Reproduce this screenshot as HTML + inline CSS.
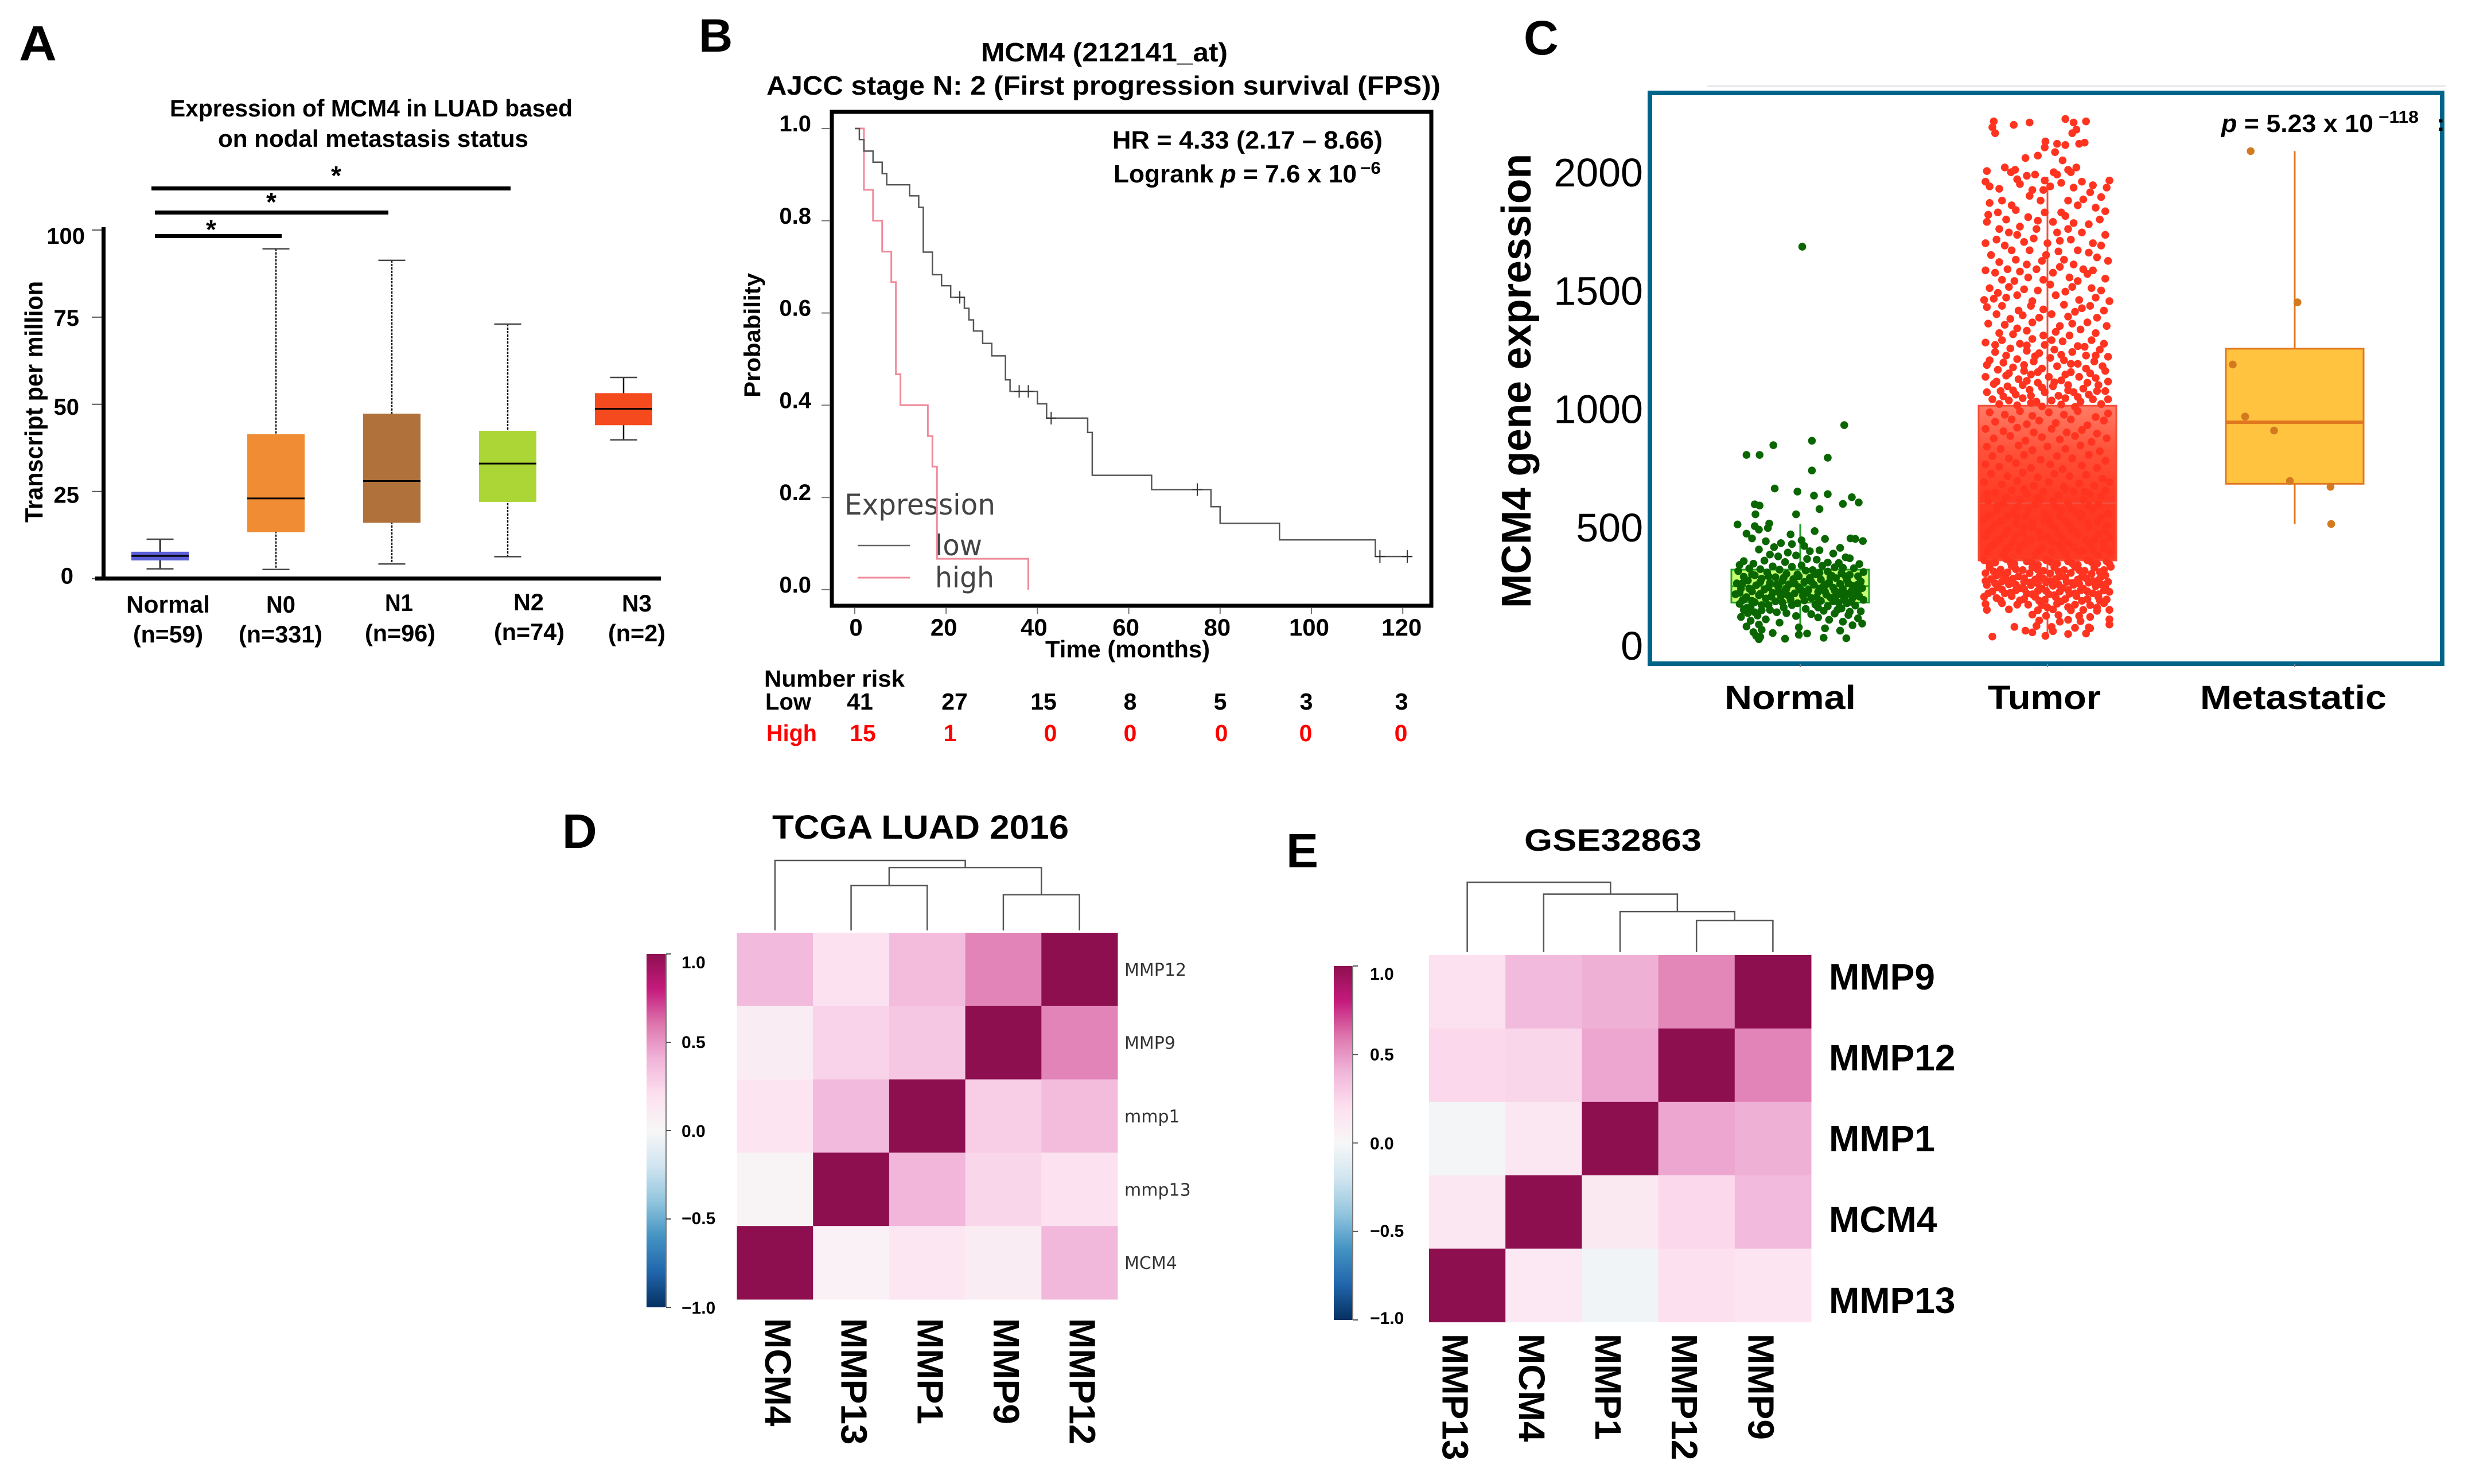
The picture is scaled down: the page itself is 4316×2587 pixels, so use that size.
<!DOCTYPE html>
<html lang="en">
<head>
<meta charset="utf-8">
<title>MCM4 expression figure</title>
<style>
html,body{margin:0;padding:0;background:#fff}
svg{display:block}
text{font-family:"Liberation Sans",sans-serif}
.b{font-weight:bold}
.dv{font-family:"DejaVu Sans",sans-serif}
</style>
</head>
<body>
<svg id="fig" xmlns="http://www.w3.org/2000/svg" width="4316" height="2587" viewBox="0 0 4316 2587">
<rect x="0" y="0" width="4316" height="2587" fill="#fff"/>
<defs id="defs"></defs>

<!-- Panel letters -->
<text class="b" x="33" y="105" font-size="86" textLength="66" lengthAdjust="spacingAndGlyphs">A</text>
<text class="b" x="1218" y="90" font-size="82">B</text>
<text class="b" x="2656" y="95" font-size="84">C</text>
<text class="b" x="980" y="1478" font-size="84">D</text>
<text class="b" x="2242" y="1512" font-size="84">E</text>

<!-- Panel A static text -->
<g id="panelA">
<text class="b" x="296" y="203" font-size="42" textLength="702" lengthAdjust="spacingAndGlyphs">Expression of MCM4 in LUAD based</text>
<text class="b" x="380" y="256" font-size="42" textLength="541" lengthAdjust="spacingAndGlyphs">on nodal metastasis status</text>
<text class="b" transform="translate(74,911) rotate(-90)" font-size="44" textLength="421" lengthAdjust="spacingAndGlyphs">Transcript per million</text>
<text class="b" x="220" y="1068" font-size="42" textLength="146" lengthAdjust="spacingAndGlyphs">Normal</text>
<text class="b" x="232" y="1120" font-size="42" textLength="122" lengthAdjust="spacingAndGlyphs">(n=59)</text>
<text class="b" x="464" y="1068" font-size="42" textLength="51" lengthAdjust="spacingAndGlyphs">N0</text>
<text class="b" x="416" y="1120" font-size="42" textLength="146" lengthAdjust="spacingAndGlyphs">(n=331)</text>
<text class="b" x="671" y="1065" font-size="42" textLength="49" lengthAdjust="spacingAndGlyphs">N1</text>
<text class="b" x="636" y="1118" font-size="42" textLength="123" lengthAdjust="spacingAndGlyphs">(n=96)</text>
<text class="b" x="895" y="1064" font-size="42" textLength="53" lengthAdjust="spacingAndGlyphs">N2</text>
<text class="b" x="861" y="1116" font-size="42" textLength="123" lengthAdjust="spacingAndGlyphs">(n=74)</text>
<text class="b" x="1084" y="1066" font-size="42" textLength="52" lengthAdjust="spacingAndGlyphs">N3</text>
<text class="b" x="1060" y="1118" font-size="42" textLength="100" lengthAdjust="spacingAndGlyphs">(n=2)</text>
<rect x="270" y="408" width="221" height="7" fill="#000"/>
<rect x="270" y="367" width="407" height="7" fill="#000"/>
<rect x="264" y="325" width="626" height="7" fill="#000"/>
<text class="b" x="368" y="416" font-size="46" text-anchor="middle">*</text>
<text class="b" x="473" y="368" font-size="46" text-anchor="middle">*</text>
<text class="b" x="586" y="322" font-size="46" text-anchor="middle">*</text>
</g>

<!-- Panel B static text -->
<g id="panelB">
<text class="b" x="1710" y="107" font-size="46" textLength="430" lengthAdjust="spacingAndGlyphs">MCM4  (212141_at)</text>
<text class="b" x="1336" y="165" font-size="46" textLength="1175" lengthAdjust="spacingAndGlyphs">AJCC stage N: 2 (First progression survival (FPS))</text>
<rect x="1450" y="195" width="1045" height="861" fill="#fff" stroke="#000" stroke-width="7"/>
<text class="b" x="1939" y="259" font-size="44" textLength="471" lengthAdjust="spacingAndGlyphs">HR = 4.33 (2.17 – 8.66)</text>
<text class="b" x="1941" y="318" font-size="44" textLength="424" lengthAdjust="spacingAndGlyphs">Logrank <tspan font-style="italic">p</tspan> = 7.6 x 10</text>
<text class="b" x="2371" y="303" font-size="30" textLength="36" lengthAdjust="spacingAndGlyphs">−6</text>
<text class="b" transform="translate(1325,693) rotate(-90)" font-size="40" textLength="217" lengthAdjust="spacingAndGlyphs">Probability</text>
<text class="b" x="1822" y="1146" font-size="42" textLength="287" lengthAdjust="spacingAndGlyphs">Time (months)</text>
<text class="dv" x="1472" y="897" font-size="50" fill="#444" textLength="263" lengthAdjust="spacingAndGlyphs">Expression</text>
<line x1="1495" y1="951" x2="1586" y2="951" stroke="#666" stroke-width="2.5"/>
<line x1="1495" y1="1007" x2="1586" y2="1007" stroke="#f08a9a" stroke-width="3"/>
<text class="dv" x="1630" y="968" font-size="50" fill="#444" textLength="82" lengthAdjust="spacingAndGlyphs">low</text>
<text class="dv" x="1630" y="1024" font-size="50" fill="#444" textLength="103" lengthAdjust="spacingAndGlyphs">high</text>
<text class="b" x="1332" y="1197" font-size="41" textLength="245" lengthAdjust="spacingAndGlyphs">Number risk</text>
<text class="b" x="1334" y="1237" font-size="41" textLength="80" lengthAdjust="spacingAndGlyphs">Low</text>
<text class="b" x="1336" y="1292" font-size="41" fill="#f00" textLength="88" lengthAdjust="spacingAndGlyphs">High</text>
</g>

<!-- Panel C static text -->
<g id="panelC">
<line x1="2976" y1="150" x2="4263" y2="150" stroke="#dfe0e6" stroke-width="2"/>
<rect x="2876" y="162" width="1381" height="995" fill="#fff" stroke="#00648a" stroke-width="8"/>
<text class="b" transform="translate(2668,1060) rotate(-90)" font-size="72" textLength="792" lengthAdjust="spacingAndGlyphs">MCM4  gene  expression</text>
<text class="b" x="3006" y="1236" font-size="58" textLength="229" lengthAdjust="spacingAndGlyphs">Normal</text>
<text class="b" x="3465" y="1236" font-size="58" textLength="197" lengthAdjust="spacingAndGlyphs">Tumor</text>
<text class="b" x="3835" y="1236" font-size="58" textLength="325" lengthAdjust="spacingAndGlyphs">Metastatic</text>
</g>

<!-- Panel D static text -->
<g id="panelD">
<text class="b" x="1346" y="1462" font-size="58" textLength="517" lengthAdjust="spacingAndGlyphs">TCGA LUAD 2016</text>
</g>

<!-- Panel E static text -->
<g id="panelE">
<text class="b" x="2657" y="1483" font-size="54" textLength="309" lengthAdjust="spacingAndGlyphs">GSE32863</text>
</g>
</svg>

<script>
/* ---------- Panel A data ---------- */
const aGroups = ['Normal','N0','N1','N2','N3'];
const aLow = [2.8,2.6,4.2,6.3,39.8];
const aQ1 = [5.2,13.3,16,22,44];
const aMedian = [6.5,23,28,33,48.7];
const aQ3 = [7.7,41.4,47.3,42.4,53.2];
const aHigh = [11.3,94.6,91.3,73,57.7];
const aColors = ['#5b5fd8','#f08c33','#b0723a','#acd635','#f54a1e'];
const aTicks = [0,25,50,75,100];

/* ---------- Panel B data ---------- */
const bTimeTicks = [0,20,40,60,80,100,120];
const bProbTicks = [0,0.2,0.4,0.6,0.8,1];
const bLowTimes = [0,1,2,4,6,7,12,14,15,17,19,21,24,25,26,28,30,33,34,40,42,51,52,65,78,80,93,114,122];
const bLowSurv = [1,0.976,0.951,0.927,0.902,0.878,0.854,0.829,0.732,0.683,0.659,0.634,0.61,0.585,0.561,0.534,0.507,0.455,0.43,0.403,0.372,0.341,0.248,0.217,0.18,0.144,0.108,0.072,0.072];
const bHighTimes = [0,2,4,6,8,9,10,16,17,18,38];
const bHighSurv = [1,0.867,0.8,0.733,0.667,0.467,0.4,0.333,0.267,0.067,0];
const bCensorTimes = [23,36,38,43,75,115,121];
const bCensorSurv = [0.634,0.43,0.43,0.372,0.217,0.072,0.072];
const bRiskLow = ['41','27','15','8','5','3','3'];
const bRiskHigh = ['15','1','0','0','0','0','0'];

/* ---------- Panel C data (jitter % of half box width, expression value) ---------- */
const cTicks = [0,500,1000,1500,2000];
const cGroups = ['Normal','Tumor','Metastatic'];
const cLow = [28,37,513];
const cQ1 = [181,359,683];
const cMedian = [250,600,943];
const cQ3 = [320,1013,1254];
const cHigh = [513,1981,2089];
const normalPoints = [[3,1685],[64,931],[17,865],[-39,846],[-78,805],[-59,805],[40,793],[17,739],[-37,663],[-4,650],[20,633],[40,639],[75,626],[62,598],[85,604],[-66,596],[-59,591],[28,576],[-65,554],[-6,554],[-91,511],[-45,515],[-66,504],[-47,496],[-60,489],[21,483],[-78,472],[-14,469],[-70,452],[73,452],[80,450],[91,441],[2,444],[36,450],
[-50,440],[-28,432],[-12,428],[6,420],[-38,415],[58,412],[-60,405],[28,402],[14,398],[-18,392],[48,388],[-44,384],[-6,380],[-32,376],[66,372],[72,368],[10,365],[24,362],[-52,358],[-82,356],[-22,352],[40,350],[56,348],[-68,345],[86,344],[-88,340],[2,338],[32,336],[-40,334],[-12,332],[50,330],[62,328],[78,326],[-74,325],[-58,322],[-30,320],[18,318],[8,316],[-90,314],[40,312],[92,310],[-48,308],[28,306],[60,304],[-20,302],[-4,300],[72,298],[-66,296],[46,294],[84,292],[-82,290],[-36,288],[14,286],[52,284],[-56,282],[-10,280],[30,278],[68,276],[-76,274],[-26,272],[88,270],[6,268],[42,266],[-44,264],[-92,262],[58,260],[-16,258],[20,256],[-64,254],[76,252],[34,250],[-32,248],[-2,246],[48,244],[90,242],[-86,240],[62,238],[-52,236],[12,234],[-22,232],[82,230],[-70,228],[26,226],[54,224],[-40,222],[-8,220],[70,218],[-94,216],[38,214],[-60,212],[4,210],[-28,208],[86,206],[-78,204],[44,202],[16,200],[-50,198],[64,196],[-14,194],[92,192],[-84,190],[30,188],[-36,186],[74,184],[-66,182],[56,180],[-4,178],[-88,175],[22,172],[-46,170],[80,168],[40,165],[-72,162],[-24,160],[60,156],[8,154],[-82,150],[-56,148],[34,146],[88,144],[-34,140],[-76,136],[50,134],[16,132],[70,128],[-62,126],[-6,124],[-86,120],[26,118],[84,114],[-50,110],[42,108],[-72,104],[62,100],[-30,96],[90,92],[-60,88],[76,85],[-78,80],[-2,76],[36,72],[-56,66],[58,62],[-68,56],[-40,52],[10,50],[-2,45],[-64,40],[-58,36],[34,32],[67,30],[-22,28],[-60,26],
[-70,300],[-46,292],[-24,286],[-2,292],[22,300],[44,288],[66,292],[-84,262],[-58,268],[-34,258],[-8,262],[16,270],[38,258],[70,262],[84,258],[-74,240],[-46,246],[-20,240],[2,232],[28,240],[50,232],[74,228],[-88,222],[-58,218],[-32,226],[10,222],[36,228],[60,214],[84,216],[-80,198],[-42,206],[-18,212],[24,204],[52,208],[76,200],[-70,188],[-26,182],[6,190],[48,186],[68,178],[-56,170],[-12,170],[26,160],[-78,158],[-44,150],[54,150],[-66,140],[-20,136],[72,142]];
const tumorPoints = [[-78,2215],[-49,2200],[-26,2210],[26,2225],[38,2210],[56,2215],[-80,2190],[-76,2165],[-3,2130],[-4,2105],[14,2120],[26,2115],[46,2120],[54,2125],[36,2165],[42,2180],[-32,2060],[-14,2070],[11,2085],[22,2050],[-47,2010],[-88,2005],[-62,2020],[-53,2000],[9,2000],[30,2010],[34,2000],[42,2020],[-30,1985],[-44,1970],[-18,1990],[-4,1965],[14,1990],[50,1960],
[-90,1960],[-84,1940],[-70,1930],[-40,1950],[-22,1925],[4,1940],[-6,1925],[20,1955],[38,1935],[66,1945],[78,1895],[86,1935],[90,1965],[-84,1870],[-66,1880],[-52,1860],[-26,1900],[-10,1880],[30,1880],[52,1885],[62,1915],[-86,1820],[-72,1830],[-46,1840],[-28,1810],[-4,1830],[20,1830],[44,1860],[70,1850],[84,1835],[-88,1790],[-60,1800],[-40,1770],[-14,1795],[8,1790],[26,1815],[38,1785],[60,1780],[76,1800],
[-70,1760],[-56,1745],[-44,1735],[-16,1760],[14,1745],[30,1760],[50,1745],[84,1735],[-90,1700],[-74,1715],[-62,1690],[-34,1705],[-20,1720],[0,1700],[18,1710],[34,1715],[66,1700],[78,1690],[-82,1650],[-52,1670],[-26,1670],[-2,1650],[16,1665],[44,1670],[60,1660],[-70,1620],[-46,1630],[-30,1610],[-8,1625],[24,1630],[38,1610],[72,1640],[88,1625],[-90,1585],[-76,1575],[-58,1590],[-40,1580],[-16,1590],[8,1575],[18,1600],[52,1590],[66,1585],[-66,1545],[-48,1540],[-28,1555],[-6,1545],[32,1555],[44,1540],[58,1570],[84,1550],
[-84,1510],[-72,1490],[-56,1515],[-34,1505],[-14,1500],[4,1525],[26,1495],[36,1515],[64,1510],[78,1500],[-92,1460],[-78,1465],[-60,1470],[-44,1480],[-22,1455],[12,1480],[46,1460],[70,1470],[90,1455],[-88,1430],[-66,1435],[-42,1415],[-24,1435],[-6,1420],[24,1440],[50,1425],[62,1435],[82,1415],[-74,1400],[-54,1380],[-36,1395],[-12,1385],[6,1400],[30,1390],[40,1410],[72,1385],[-86,1360],[-62,1355],[-44,1340],[-22,1365],[18,1350],[36,1360],[58,1365],[86,1350],[-70,1320],[-50,1315],[-30,1330],[-6,1310],[12,1325],[32,1310],[48,1335],[70,1320],
[-90,1280],[-66,1290],[-40,1275],[-22,1295],[-4,1270],[22,1285],[44,1265],[64,1290],[82,1275],[-76,1240],[-54,1255],[-30,1245],[-12,1235],[10,1250],[36,1240],[56,1225],[76,1250],[88,1220],[-84,1205],[-64,1195],[-44,1210],[-20,1200],[4,1215],[24,1205],[44,1190],[68,1200],[-72,1165],[-50,1175],[-34,1160],[-8,1170],[14,1180],[34,1155],[56,1170],[84,1160],[-90,1135],[-60,1140],[-42,1125],[-24,1145],[2,1135],[20,1120],[46,1135],[70,1130],[88,1115],[-78,1105],[-58,1095],[-36,1100],[-14,1110],[8,1095],[30,1100],[52,1085],[74,1100],[-88,1070],[-68,1075],[-46,1060],[-26,1080],[-4,1070],[16,1055],[38,1070],[60,1060],[84,1075],[-80,1040],[-56,1035],[-36,1045],[-16,1030],[6,1035],[26,1045],[48,1030],[66,1040],[-70,1020],[-44,1015],[-24,1025],[-8,1010],[20,1018],[40,1008],[78,1020],
[-84,985],[-62,975],[-40,990],[-22,970],[2,985],[24,975],[44,990],[70,965],[88,980],[-76,945],[-52,955],[-30,935],[-12,950],[12,940],[34,955],[58,930],[82,950],[-90,915],[-64,905],[-44,920],[-20,900],[6,915],[28,900],[50,910],[72,895],[-78,875],[-54,885],[-32,865],[-8,880],[18,870],[40,885],[64,860],[86,875],[-88,840],[-68,830],[-42,845],[-22,825],[0,840],[26,830],[48,845],[76,820],[-80,800],[-56,790],[-34,805],[-10,785],[14,800],[36,790],[60,805],[84,780],[-90,765],[-70,755],[-46,770],[-24,750],[4,765],[22,745],[50,760],[72,750],[-82,725],[-58,715],[-36,730],[-14,710],[10,725],[32,715],[56,720],[80,705],[-92,690],[-66,680],[-44,695],[-20,675],[2,690],[24,670],[46,685],[68,675],[90,690],[-76,645],[-52,655],[-30,640],[-6,650],[16,635],[38,650],[62,640],[84,655],[-86,610],[-64,600],[-40,615],[-18,595],[8,610],[30,600],[52,615],[74,595],[-74,570],[-50,560],[-28,575],[-4,555],[20,570],[42,560],[66,575],[88,555],
[-92,535],[-68,525],[-44,540],[-22,520],[2,535],[26,525],[48,540],[72,520],[-80,495],[-58,485],[-34,500],[-12,480],[12,495],[36,485],[60,500],[84,480],[-90,460],[-70,450],[-46,465],[-24,445],[0,460],[22,450],[44,465],[68,445],[90,455],[-78,425],[-54,415],[-32,430],[-8,410],[16,425],[38,415],[62,430],[82,410],[-88,395],[-64,385],[-42,400],[-18,380],[6,395],[28,385],[52,400],[74,380],
[-92,360],[-76,350],[-60,365],[-48,345],[-30,355],[-14,340],[-2,360],[14,345],[30,355],[44,340],[58,360],[72,345],[86,355],[-84,330],[-68,320],[-52,335],[-36,318],[-22,330],[-6,315],[10,330],[24,318],[40,332],[54,315],[68,328],[82,318],[92,332],[-90,305],[-74,295],[-58,308],[-42,292],[-26,305],[-12,290],[4,304],[18,292],[34,306],[50,290],[64,302],[78,290],[-82,280],[-66,270],[-50,282],[-34,268],[-18,278],[-2,266],[12,280],[28,268],[44,278],[60,265],[74,276],[88,268],[-88,255],[-72,245],[-56,258],[-40,242],[-24,254],[-8,240],[8,252],[22,242],[38,256],[52,240],[70,250],[84,244],[-80,228],[-62,220],[-46,232],[-30,218],[-14,230],[2,216],[18,228],[32,218],[48,232],[66,220],[90,226],[-92,205],[-74,200],[-52,208],[-34,196],[-18,205],[-4,192],[12,204],[26,196],[42,208],[58,196],[74,204],[86,194],[-90,175],[-66,178],[-44,172],[-8,170],[14,176],[40,172],[62,170],[82,178],[-88,150],[-56,152],[-14,148],[8,152],[34,148],[52,150],[72,146],[90,150],[-22,130],[-2,125],[16,128],[46,124],[62,120],[-12,105],[18,100],[30,108],[48,102],[90,110],[-16,82],[6,78],[40,74],[60,76],[90,88],[-48,78],[-32,62],[-22,55],[8,60],[30,48],[62,72],[-3,40],[56,50],[-80,37],
[-84,345],[-54,352],[-22,348],[6,350],[36,346],[64,352],[90,344],[-78,312],[-46,322],[-14,320],[16,312],[46,318],[76,310],[-64,296],[-34,284],[-6,282],[26,286],[56,284],[84,296],[-90,272],[-58,276],[-26,266],[4,272],[36,264],[66,272],[-76,262],[-46,256],[-14,262],[16,258],[46,262],[78,258],[-66,236],[-34,238],[-2,230],[30,234],[58,228],[82,232],[-86,220],[-54,222],[-22,216],[10,212],[40,220],[74,216],[-68,190],[-40,190],[-12,188],[20,186],[50,188],[76,190],[-28,172],[0,160],[30,162],[72,160],
[-88,640],[-60,625],[-34,660],[-10,615],[26,660],[54,650],[78,630],[-72,590],[-44,585],[-14,625],[12,585],[34,575],[60,590],[-84,550],[-58,545],[-32,545],[-6,530],[18,545],[50,555],[78,540],[-76,510],[-46,515],[-22,500],[4,510],[32,505],[58,520],[86,505],[-86,478],[-62,470],[-36,475],[-10,455],[16,470],[42,480],[74,470],[-74,440],[-50,440],[-28,448],[6,440],[30,432],[56,445],[82,435],[-84,415],[-60,405],[-40,420],[-14,395],[22,405],[46,395],[66,405],[90,395],
[-76,1270],[-30,1268],[6,1290],[54,1262],[-60,1225],[-18,1222],[20,1228],[70,1225],[-88,1185],[-34,1185],[34,1190],[80,1180],[-56,1150],[-14,1155],[26,1145],[62,1150],[-74,1115],[-30,1118],[10,1112],[58,1110],[-50,1078],[-8,1090],[30,1078],[72,1075],[-64,1052],[-24,1055],[44,1050],[88,1040]];
const metaPoints = [[-64,2089],[4,1450],[-90,1187],[-72,967],[-30,908],[-7,695],[52,670],[53,513]];

/* ---------- Panels D / E heatmap data ---------- */
const colorValues = [-1,-0.8,-0.6,-0.4,-0.2,0,0.2,0.4,0.6,0.8,1];
const colorHex = ['#053061','#2166ac','#4393c3','#92c5de','#d1e5f0','#f7f7f7','#fde0ef','#f1b6da','#de77ae','#c51b7d','#8e0f50'];
const cbarTicks = [1,0.5,0,-0.5,-1];
const cbarLabels = ['1.0','0.5','0.0','−0.5','−1.0'];
const dRows = ['MMP12','MMP9','mmp1','mmp13','MCM4'];
const dCols = ['MCM4','MMP13','MMP1','MMP9','MMP12'];
const dValues = [
 [0.38,0.18,0.37,0.56,1],
 [0.10,0.26,0.32,1,0.56],
 [0.16,0.38,1,0.29,0.37],
 [0.03,1,0.40,0.25,0.18],
 [1,0.05,0.15,0.10,0.39]
];
const dMergeLeft = [1,3,5,0];
const dMergeRight = [2,4,6,7];
const dMergeHeight = [0.64,0.51,0.90,1];
const eRows = ['MMP9','MMP12','MMP1','MCM4','MMP13'];
const eCols = ['MMP13','MCM4','MMP1','MMP12','MMP9'];
const eValues = [
 [0.18,0.38,0.42,0.55,1],
 [0.24,0.25,0.45,1,0.56],
 [-0.02,0.14,1,0.45,0.42],
 [0.14,1,0.12,0.24,0.38],
 [1,0.13,-0.03,0.20,0.16]
];
const eMergeLeft = [3,2,1,0];
const eMergeRight = [4,5,6,7];
const eMergeHeight = [0.45,0.58,0.83,1];

/* ---------- helpers ---------- */
const NS = 'http://www.w3.org/2000/svg';
function add(parent, tag, attrs, text) {
  const el = document.createElementNS(NS, tag);
  for (const k in attrs) el.setAttribute(k, attrs[k]);
  if (text !== undefined) el.textContent = text;
  parent.appendChild(el);
  return el;
}
function slug(s) { return String(s).toLowerCase().replace(/[^a-z0-9]+/g, '-'); }
function hexRgb(h) { return [1,3,5].map(i => parseInt(h.substr(i,2),16)); }
function valueColor(v) {
  let i = 0;
  while (i < colorValues.length - 2 && v > colorValues[i + 1]) i++;
  const f = Math.max(0, Math.min(1, (v - colorValues[i]) / (colorValues[i + 1] - colorValues[i])));
  const a = hexRgb(colorHex[i]), b = hexRgb(colorHex[i + 1]);
  return 'rgb(' + a.map((c, n) => Math.round(c + (b[n] - c) * f)).join(',') + ')';
}

/* ---------- Panel A ---------- */
(function () {
  const g = document.getElementById('panelA');
  const yA = v => 1008.6 - v * 6.076;
  const xA = i => 279 + i * 202;
  const boxW = 100, capW = 47;
  const labelNudge = {0: 9, 25: 20, 50: 18, 75: 15, 100: 24};
  aTicks.forEach(t => {
    const tick = add(g, 'line', {x1: 160, x2: 180, y1: yA(t), y2: yA(t), stroke: '#555', 'stroke-width': 2});
    
    
    const lab = add(g, 'text', {x: t === 100 ? 148 : (t === 0 ? 128 : 138), y: yA(t) + labelNudge[t], 'font-size': 40, 'font-weight': 'bold', 'text-anchor': 'end'}, String(t));
    
    
  });
  aGroups.forEach((name, i) => {
    const x = xA(i), id = slug(name);
    const whisker = add(g, 'line', {x1: x, x2: x, y1: yA(aHigh[i]), y2: yA(aLow[i]), stroke: '#111', 'stroke-width': 2.5, 'stroke-dasharray': i === 0 || i === 4 ? 'none' : '4 2'});
    
    
    const capTop = add(g, 'line', {x1: x - capW / 2, x2: x + capW / 2, y1: yA(aHigh[i]), y2: yA(aHigh[i]), stroke: '#444', 'stroke-width': 2.5});
    
    
    const capLow = add(g, 'line', {x1: x - capW / 2, x2: x + capW / 2, y1: yA(aLow[i]), y2: yA(aLow[i]), stroke: '#444', 'stroke-width': 2.5});
    
    
    const box = add(g, 'rect', {x: x - boxW / 2, y: yA(aQ3[i]), width: boxW, height: yA(aQ1[i]) - yA(aQ3[i]), fill: aColors[i]});
    
    
    const med = add(g, 'line', {x1: x - boxW / 2, x2: x + boxW / 2, y1: yA(aMedian[i]), y2: yA(aMedian[i]), stroke: '#000', 'stroke-width': 3});
    
    
  });
  const yAxis = add(g, 'rect', {x: 177, y: 396, width: 7, height: 616, fill: '#000'});
  
  
  const xAxis = add(g, 'rect', {x: 166, y: 1005, width: 986, height: 7, fill: '#000'});
  
  
})();

/* ---------- Panel B ---------- */
(function () {
  const g = document.getElementById('panelB');
  const xB = t => 1490 + t * 7.96;
  const yB = s => 1028 - s * 804;
  const timeLabelNudge = {0: 2, 20: -4, 40: -6, 60: -5, 80: -5, 100: -4, 120: -2};
  bProbTicks.forEach(p => {
    const tick = add(g, 'line', {x1: 1432, x2: 1447, y1: yB(p), y2: yB(p), stroke: '#777', 'stroke-width': 2});
    
    
    const lab = add(g, 'text', {x: 1414, y: yB(p) + 5, 'font-size': 40, 'font-weight': 'bold', 'text-anchor': 'end'}, p.toFixed(1));
    
    
  });
  bTimeTicks.forEach(t => {
    const tick = add(g, 'line', {x1: xB(t), x2: xB(t), y1: 1060, y2: 1070, stroke: '#777', 'stroke-width': 2});
    
    
    const lab = add(g, 'text', {x: xB(t) + timeLabelNudge[t], y: 1108, 'font-size': 42, 'font-weight': 'bold', 'text-anchor': 'middle'}, String(t));
    
    
  });
  function stepPath(ts, ss) {
    let d = 'M' + xB(ts[0]) + ' ' + yB(ss[0]);
    for (let i = 1; i < ts.length; i++) d += 'H' + xB(ts[i]) + 'V' + yB(ss[i]);
    return d;
  }
  const high = add(g, 'path', {d: stepPath(bHighTimes, bHighSurv), fill: 'none', stroke: '#f08a9a', 'stroke-width': 3});
  
  
  const low = add(g, 'path', {d: stepPath(bLowTimes, bLowSurv), fill: 'none', stroke: '#555', 'stroke-width': 2.5});
  
  
  bCensorTimes.forEach((t, i) => {
    const x = xB(t), y = yB(bCensorSurv[i]);
    const m = add(g, 'path', {d: 'M' + (x - 9) + ' ' + y + 'H' + (x + 9) + 'M' + x + ' ' + (y - 11) + 'V' + (y + 11), stroke: '#333', 'stroke-width': 2, fill: 'none'});
    
    
  });
  const riskLowX = i => [1499,1664,1819,1970,2127,2277,2443][i];
  const riskHighX = i => [1504,1656,1831,1970,2129,2276,2442][i];
  bRiskLow.forEach((n, i) => {
    const t = add(g, 'text', {x: riskLowX(i), y: 1237, 'font-size': 41, 'font-weight': 'bold', 'text-anchor': 'middle'}, n);
    
    
  });
  bRiskHigh.forEach((n, i) => {
    const t = add(g, 'text', {x: riskHighX(i), y: 1292, 'font-size': 41, 'font-weight': 'bold', 'text-anchor': 'middle', fill: '#f00'}, n);
    
    
  });
})();

/* ---------- Panel C ---------- */
(function () {
  const g = document.getElementById('panelC');
  const defs = document.getElementById('defs');
  const yC = v => 1125 - v * 0.4124;
  const xC = i => 3138 + i * 431;
  const halfW = 120;
  const grad = add(defs, 'linearGradient', {id: 'tumorFill', x1: 0, y1: 0, x2: 0, y2: 1});
  add(grad, 'stop', {offset: '0', 'stop-color': '#ff7c66'});
  add(grad, 'stop', {offset: '0.3', 'stop-color': '#ff5038'});
  add(grad, 'stop', {offset: '0.6', 'stop-color': '#ff3a24'});
  add(grad, 'stop', {offset: '1', 'stop-color': '#ff3a24'});
  const fills = ['#c8ff70', 'url(#tumorFill)', '#ffc340'];
  const strokes = ['#22a022', '#f2503c', '#e07820'];
  const dotColors = ['#0a6600', '#ff3420', '#d47a1e'];
  const medianWidths = [3, 3, 6];
  const series = [normalPoints, tumorPoints, metaPoints];
  cTicks.forEach(t => {
    const lab = add(g, 'text', {x: 2864, y: yC(t) + 25, 'font-size': 70, 'text-anchor': 'end'}, String(t));
    
    
  });
  cGroups.forEach((name, i) => {
    const x = xC(i), id = slug(name);
    const whisker = add(g, 'line', {x1: x, x2: x, y1: yC(cHigh[i]), y2: yC(cLow[i]), stroke: strokes[i], 'stroke-width': 3});
    
    
    const box = add(g, 'rect', {x: x - halfW, y: yC(cQ3[i]), width: halfW * 2, height: yC(cQ1[i]) - yC(cQ3[i]), fill: fills[i], stroke: strokes[i], 'stroke-width': 3});
    
    
    const med = add(g, 'line', {x1: x - halfW, x2: x + halfW, y1: yC(cMedian[i]), y2: yC(cMedian[i]), stroke: strokes[i], 'stroke-width': medianWidths[i]});
    
    
    const tick = add(g, 'line', {x1: x, x2: x, y1: 1157, y2: 1163, stroke: '#888', 'stroke-width': 2});
    
    
    series[i].forEach((p, n) => {
      const dot = add(g, 'circle', {cx: x + p[0] / 100 * halfW, cy: yC(p[1]), r: 6.8, fill: dotColors[i]});
      
      
    });
  });
  const pText = add(g, 'text', {x: 3872, y: 230, 'font-size': 44, 'font-weight': 'bold', textLength: 265, lengthAdjust: 'spacingAndGlyphs'});
  
  
  add(pText, 'tspan', {'font-style': 'italic'}, 'p');
  add(pText, 'tspan', {}, ' = 5.23 x 10');
  const pExp = add(g, 'text', {x: 4146, y: 214, 'font-size': 30, 'font-weight': 'bold', textLength: 70, lengthAdjust: 'spacingAndGlyphs'}, '−118');
  
  
  const colon = add(g, 'text', {x: 4248, y: 228, 'font-size': 40, 'font-weight': 'bold'}, ':');
  
  
})();

/* ---------- Panels D / E ---------- */
function drawHeatmap(opts) {
  const g = document.getElementById(opts.group);
  const p = opts.id;
  const cw = (opts.x1 - opts.x0) / opts.cols.length;
  const rh = (opts.y1 - opts.y0) / opts.rows.length;
  const xH = c => opts.x0 + c * cw;
  const yH = r => opts.y0 + r * rh;
  opts.values.forEach((row, r) => {
    row.forEach((v, c) => {
      const cell = add(g, 'rect', {x: xH(c), y: yH(r), width: cw + 0.5, height: rh + 0.5, fill: valueColor(v)});
      
      
    });
  });
  /* dendrogram */
  const nodeX = opts.cols.map((_, i) => xH(i + 0.5));
  const nodeH = opts.cols.map(() => 0);
  const yD = h => opts.dendBottom - h * (opts.dendBottom - opts.dendTop);
  opts.mergeLeft.forEach((a, i) => {
    const b = opts.mergeRight[i], h = opts.mergeHeight[i];
    const d = 'M' + nodeX[a] + ' ' + yD(nodeH[a]) + 'V' + yD(h) + 'H' + nodeX[b] + 'V' + yD(nodeH[b]);
    const link = add(g, 'path', {d: d, fill: 'none', stroke: '#555', 'stroke-width': 2.5});
    
    
    nodeX.push((nodeX[a] + nodeX[b]) / 2);
    nodeH.push(h);
  });
  /* colour bar */
  const defs = document.getElementById('defs');
  const grad = add(defs, 'linearGradient', {id: p + 'Bar', x1: 0, y1: 1, x2: 0, y2: 0});
  colorValues.forEach((v, i) => add(grad, 'stop', {offset: (v + 1) / 2, 'stop-color': colorHex[i]}));
  const bar = add(g, 'rect', {x: opts.barX, y: opts.barTop, width: opts.barW, height: opts.barBottom - opts.barTop, fill: 'url(#' + p + 'Bar)'});
  
  
  const edge = add(g, 'line', {x1: opts.barX + opts.barW, x2: opts.barX + opts.barW, y1: opts.barTop, y2: opts.barBottom, stroke: '#777', 'stroke-width': 2});
  
  
  const yBar = v => opts.barBottom - (v + 1) / 2 * (opts.barBottom - opts.barTop);
  cbarTicks.forEach((v, i) => {
    const tick = add(g, 'line', {x1: opts.barX + opts.barW, x2: opts.barX + opts.barW + 9, y1: yBar(v), y2: yBar(v), stroke: '#555', 'stroke-width': 2});
    
    
    const lab = add(g, 'text', {x: opts.barLabelX, y: yBar(v) + opts.barLabelDy[i], 'font-size': 30, 'font-weight': 'bold'}, cbarLabels[i]);
    
    
  });
  /* labels */
  opts.rows.forEach((name, r) => {
    const lab = add(g, 'text', {x: opts.x1 + opts.rightGap, y: opts.rightBase + r * opts.rightStep, 'font-size': opts.rightSize, 'font-weight': opts.rightWeight, fill: opts.rightFill});
    lab.textContent = name;
    if (opts.rightDejaVu) lab.setAttribute('class', 'dv');
    
    
  });
  opts.cols.forEach((name, c) => {
    const lab = add(g, 'text', {transform: 'translate(' + (xH(c + 0.5) + opts.bottomDx) + ',' + opts.bottomY + ') rotate(90)', 'font-size': 64, 'font-weight': 'bold'}, name.toUpperCase());
    
    
  });
}

drawHeatmap({
  group: 'panelD', id: 'd', rows: dRows, cols: dCols, values: dValues,
  x0: 1284.5, x1: 1948, y0: 1626, y1: 2265,
  mergeLeft: dMergeLeft, mergeRight: dMergeRight, mergeHeight: dMergeHeight,
  dendBottom: 1622, dendTop: 1500,
  barX: 1127, barW: 34, barTop: 1663, barBottom: 2279, barLabelX: 1188, barLabelDy: [25, 10, 11, 9, 11],
  rightGap: 12, rightBase: 1700.9, rightStep: 127.8, rightSize: 30, rightWeight: 'normal', rightFill: '#333', rightDejaVu: true,
  bottomDx: -17, bottomY: 2298
});
drawHeatmap({
  group: 'panelE', id: 'e', rows: eRows, cols: eCols, values: eValues,
  x0: 2491, x1: 3157, y0: 1665, y1: 2304.6,
  mergeLeft: eMergeLeft, mergeRight: eMergeRight, mergeHeight: eMergeHeight,
  dendBottom: 1659.6, dendTop: 1538,
  barX: 2325, barW: 33, barTop: 1684, barBottom: 2301, barLabelX: 2388, barLabelDy: [24, 10, 11, 9, 7],
  rightGap: 31, rightBase: 1725, rightStep: 141, rightSize: 64, rightWeight: 'bold', rightFill: '#000', rightDejaVu: false,
  bottomDx: -43, bottomY: 2325
});
</script>
</body>
</html>
